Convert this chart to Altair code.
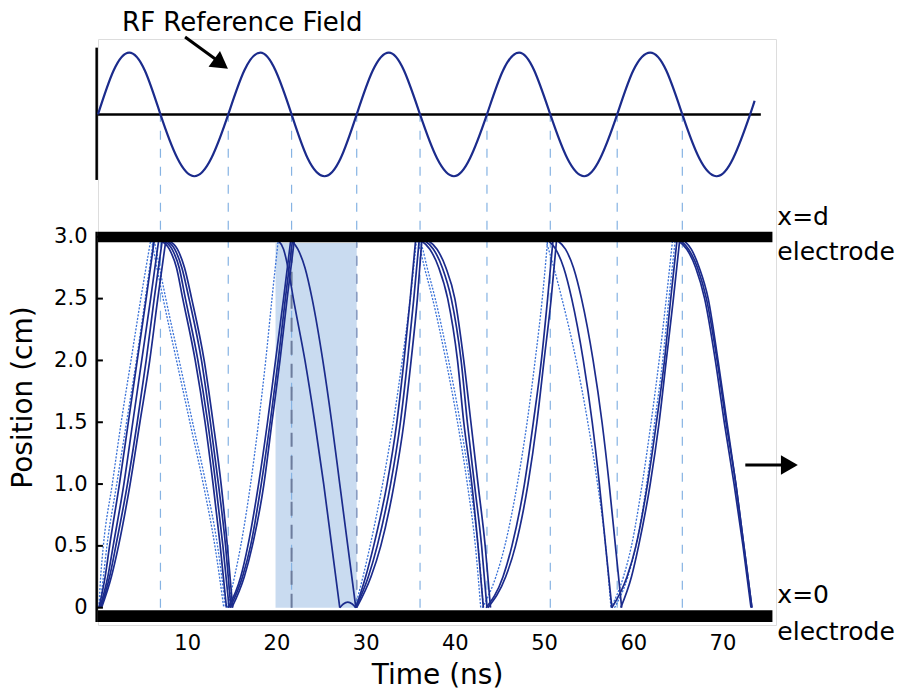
import altair as alt
import pandas as pd

# ---------------- data ----------------
X_TICKS = [10, 20, 30, 40, 50, 60, 70]
Y_TICKS = [0, 0.5, 1.0, 1.5, 2.0, 2.5, 3.0]

# RF reference field (normalised amplitude)
RF_T = [0, 1.75, 3.5, 5.25, 7.0, 8.9, 10.8, 12.7, 14.6, 16.4, 18.2, 19.9,
        21.7, 23.5, 25.4, 27.2, 29.0, 30.8, 32.6, 34.3, 36.1, 38.0, 39.9, 41.7,
        43.6, 45.4, 47.2, 48.9, 50.7, 52.6, 54.5, 56.3, 58.2, 60.0, 61.9, 63.7,
        65.5, 67.4, 69.3, 71.2, 73.1, 73.6]
RF_V = [0, .71, 1, .71, 0, -.71, -1, -.71, 0, .71, 1, .71,
        0, -.71, -1, -.71, 0, .71, 1, .71, 0, -.71, -1, -.71,
        0, .71, 1, .71, 0, -.71, -1, -.71, 0, .71, 1, .71,
        0, -.71, -1, -.71, 0, 0.22]

# zero crossings of the field (dashed guide lines)
CROSS_T = [7.0, 14.6, 21.7, 29.0, 36.1, 43.6, 50.7, 58.2, 65.5]
HIGHLIGHT_T = [21.7]
SHADE_T = [19.9, 29.0]

# electron trajectories: times (ns) at which each one passes given positions (cm)
RISE_Y = [0, 0.25, 0.5, 1.0, 1.5, 2.0, 2.5, 2.97]
FALL_Y = [2.97, 2.9, 2.75, 2.5, 2.0, 1.5, 1.0, 0.5, 0]

RISE_SOLID = {
    "R1c": [0.1, 0.8, 1.3, 2.4, 3.4, 4.4, 5.4, 6.3],
    "R1d": [0.2, 1.1, 1.7, 2.9, 3.9, 4.9, 5.9, 6.8],
    "R1e": [0.3, 1.3, 2.0, 3.3, 4.4, 5.4, 6.3, 7.2],
    "R1f": [0.4, 1.5, 2.3, 3.6, 4.7, 5.8, 6.7, 7.6],
    "R2b": [14.6, 16.0, 16.8, 18.0, 19.0, 19.9, 20.8, 21.6],
    "R2c": [14.8, 16.2, 17.1, 18.3, 19.3, 20.2, 21.0, 21.8],
    "R2d": [15.0, 16.4, 17.3, 18.6, 19.5, 20.4, 21.2, 22.0],
    "R3a": [28.9, 30.0, 30.9, 32.4, 33.5, 34.3, 35.0, 35.6],
    "R3b": [28.9, 30.3, 31.3, 32.8, 33.9, 34.7, 35.4, 36.0],
    "R3c": [29.0, 30.6, 31.7, 33.2, 34.3, 35.1, 35.8, 36.3],
    "R4b": [43.5, 45.4, 46.4, 47.8, 48.8, 49.7, 50.4, 51.0],
    "R4c": [43.7, 45.7, 46.8, 48.2, 49.2, 50.0, 50.8, 51.4],
    "R5b": [57.6, 59.3, 60.3, 61.6, 62.6, 63.5, 64.2, 64.9],
    "R5c": [58.6, 59.8, 60.6, 61.9, 62.9, 63.7, 64.5, 65.2],
}
RISE_DOTTED = {
    "R1a": [0.1, 0.3, 0.6, 1.6, 2.6, 3.7, 4.8, 5.9],
    "R1b": [0.2, 0.6, 1.0, 2.1, 3.2, 4.3, 5.3, 6.2],
    "R2a": [14.5, 15.3, 16.0, 17.1, 18.0, 18.8, 19.5, 20.2],
    "R3d": [28.8, 29.7, 30.5, 31.9, 33.1, 34.1, 35.0, 35.7],
    "R4a": [43.1, 44.6, 45.6, 47.0, 48.1, 49.0, 49.8, 50.4],
    "R5a": [57.5, 58.9, 59.8, 61.0, 62.0, 62.9, 63.7, 64.4],
    "R5d": [57.9, 59.4, 60.3, 61.5, 62.4, 63.3, 64.0, 64.7],
}
FALL_SOLID = {
    "D1a": [7.0, 8.0, 8.8, 9.5, 10.9, 12.0, 12.9, 13.7, 14.4],
    "D1b": [7.3, 8.3, 9.1, 9.8, 11.2, 12.3, 13.2, 14.0, 14.7],
    "D1c": [7.6, 8.6, 9.4, 10.2, 11.6, 12.6, 13.5, 14.3, 14.9],
    "D1d": [7.9, 8.9, 9.7, 10.5, 11.9, 12.9, 13.8, 14.5, 15.1],
    "D2a": [20.2, 20.8, 21.3, 21.9, 23.2, 24.3, 25.3, 26.2, 27.1],
    "D2b": [21.7, 22.4, 23.2, 24.0, 25.2, 26.2, 27.1, 28.0, 28.9],
    "D3a": [36.2, 37.2, 38.2, 39.2, 40.3, 41.0, 41.9, 42.6, 43.2],
    "D3b": [36.6, 37.6, 38.6, 39.6, 40.7, 41.4, 42.2, 43.0, 43.6],
    "D3c": [37.0, 38.0, 39.0, 40.0, 41.0, 41.8, 42.6, 43.4, 44.0],
    "D4a": [50.5, 51.3, 52.2, 53.1, 54.4, 55.4, 56.2, 56.9, 57.6],
    "D4b": [51.5, 52.4, 53.3, 54.2, 55.5, 56.5, 57.3, 58.0, 58.7],
    "D5a": [65.0, 66.0, 67.0, 68.0, 69.2, 70.2, 71.3, 72.3, 73.2],
    "D5b": [65.3, 66.2, 67.2, 68.2, 69.4, 70.4, 71.5, 72.4, 73.3],
    "D5c": [65.7, 66.5, 67.4, 68.4, 69.5, 70.5, 71.5, 72.4, 73.3],
}
FALL_DOTTED = {
    "D1e": [6.0, 6.2, 6.6, 7.3, 8.8, 10.3, 11.8, 13.1, 14.1],
    "D1f": [6.3, 6.5, 6.9, 7.6, 9.1, 10.6, 12.1, 13.4, 14.3],
    "D3d": [35.8, 36.1, 36.6, 37.5, 39.0, 40.3, 41.4, 42.3, 42.9],
    "D3e": [36.1, 36.4, 36.9, 37.8, 39.3, 40.6, 41.7, 42.6, 43.2],
    "D4c": [50.2, 50.5, 51.1, 52.0, 53.6, 54.9, 56.0, 56.9, 57.5],
}
BUMP_T = [27.1, 27.5, 28.0, 28.5, 28.9]
BUMP_Y = [0, 0.03, 0.045, 0.03, 0]

# ---------------- geometry / styling ----------------
X_DOMAIN = [0, 76]
Y_DOMAIN = [-0.14, 4.6]
RF_CENTER, RF_AMP = 3.99, 0.5
FONT = "DejaVu Sans"
NAVY = "#1b2b8c"
LIGHT = "#3a72d8"

xs = alt.Scale(domain=X_DOMAIN, nice=False, zero=False)
ys = alt.Scale(domain=Y_DOMAIN, nice=False, zero=False)
XAX = alt.Axis(values=X_TICKS, domain=False, ticks=False, grid=False,
               labelFontSize=21, labelFont=FONT, labelColor="black",
               labelPadding=7, title="Time (ns)", titleFont=FONT,
               titleFontSize=28, titleFontWeight="normal", titleColor="black",
               titlePadding=8)
YAX = alt.Axis(values=Y_TICKS, domain=False, ticks=False, grid=False,
               labelFontSize=21, labelFont=FONT, labelColor="black",
               labelPadding=11, title=None,
               labelExpr="datum.value == 0 ? '0' : format(datum.value, '.1f')")


def X(f):
    return alt.X(f, type="quantitative", scale=xs, axis=XAX)


def Y(f):
    return alt.Y(f, type="quantitative", scale=ys, axis=YAX)


def curves(table, levels):
    rows = []
    for name, ts in table.items():
        for i, (t, y) in enumerate(zip(ts, levels)):
            rows.append({"curve": name, "i": i, "t": t, "y": y})
    return pd.DataFrame(rows)


solid_df = pd.concat([curves(RISE_SOLID, RISE_Y), curves(FALL_SOLID, FALL_Y),
                      pd.DataFrame({"curve": "bump", "i": range(len(BUMP_T)),
                                    "t": BUMP_T, "y": BUMP_Y})])
dotted_df = pd.concat([curves(RISE_DOTTED, RISE_Y), curves(FALL_DOTTED, FALL_Y)])
rf_df = pd.DataFrame({"t": RF_T, "v": RF_V})

shade = alt.Chart(pd.DataFrame({"t1": [SHADE_T[0]], "t2": [SHADE_T[1]],
                                "y1": [0.0], "y2": [2.95]})).mark_rect(
    color="#c3d7ee", opacity=0.9).encode(x=X("t1"), x2="t2", y=Y("y1"), y2="y2")

guides = alt.Chart(pd.DataFrame({"t": CROSS_T, "y1": 0.0, "y2": RF_CENTER})).mark_rule(
    color="#86b3e3", strokeWidth=1.2, strokeDash=[9, 9]).encode(
    x=X("t"), y=Y("y1"), y2="y2")

hl = alt.Chart(pd.DataFrame({"t": HIGHLIGHT_T, "y1": 0.0, "y2": 2.95})).mark_rule(
    color="#6d7c9c", strokeWidth=2, strokeDash=[14, 9]).encode(
    x=X("t"), y=Y("y1"), y2="y2")

shade_edge = alt.Chart(pd.DataFrame({"t": [SHADE_T[1]], "y1": 0.0, "y2": 2.95})).mark_rule(
    color="#8a9bc0", strokeWidth=1.5, strokeDash=[10, 8]).encode(
    x=X("t"), y=Y("y1"), y2="y2")

dotted = alt.Chart(dotted_df).mark_line(
    interpolate="monotone", color=LIGHT, strokeWidth=1.3, strokeDash=[2, 1.5]).encode(
    x=X("t"), y=Y("y"), detail="curve:N", order="i:Q")

solid = alt.Chart(solid_df).mark_line(
    interpolate="monotone", color=NAVY, strokeWidth=1.7).encode(
    x=X("t"), y=Y("y"), detail="curve:N", order="i:Q")

bars = alt.Chart(pd.DataFrame({"t1": [0.0, 0.0], "t2": [75.6, 75.6],
                               "y1": [2.955, -0.02], "y2": [3.04, -0.115]})).mark_rect(
    color="black").encode(x=X("t1"), x2="t2", y=Y("y1"), y2="y2")

frame = alt.Chart(pd.DataFrame({"t1": [-0.15, -0.15, 0.0], "t2": [-0.15, -0.15, 74.3],
                                "y1": [-0.115, 3.46, RF_CENTER],
                                "y2": [3.04, 4.53, RF_CENTER]})).mark_rule(
    color="black", strokeWidth=2.5).encode(x=X("t1"), x2="t2", y=Y("y1"), y2="y2")

yticks = alt.Chart(pd.DataFrame({"y": Y_TICKS, "t1": -0.15, "t2": 0.55})).mark_rule(
    color="black", strokeWidth=2).encode(x=X("t1"), x2="t2", y=Y("y"))

rf = alt.Chart(rf_df).transform_calculate(
    yy=f"{RF_CENTER} + {RF_AMP} * datum.v").mark_line(
    interpolate="natural", color=NAVY, strokeWidth=2.2).encode(x=X("t"), y=Y("yy"))

arrows = alt.Chart(pd.DataFrame({"t1": [9.76, 72.56], "t2": [13.3, 77.2],
                                 "y1": [4.616, 1.154], "y2": [4.43, 1.154]})).mark_rule(
    color="black", strokeWidth=3).encode(x=X("t1"), x2="t2", y=Y("y1"), y2="y2")

heads = alt.Chart(pd.DataFrame({"t": [13.8, 77.5], "y": [4.40, 1.154],
                                "a": [36, 0]})).mark_point(
    shape="triangle-right", filled=True, color="black", opacity=1, size=380).encode(
    x=X("t"), y=Y("y"), angle=alt.Angle("a:Q", scale=None))

ann = alt.Chart(pd.DataFrame({
    "t": [2.7, 76.15, 76.15, 76.15, 76.15],
    "y": [4.665, 3.095, 2.81, 0.038, -0.26],
    "s": [26, 25, 25, 25, 25],
    "label": ["RF Reference Field", "x=d", "electrode", "x=0", "electrode"]})).mark_text(
    align="left", baseline="alphabetic", font=FONT, color="black").encode(
    x=X("t"), y=Y("y"), text="label:N", size=alt.Size("s:Q", scale=None))

ytitle = alt.Chart(pd.DataFrame({"t": [-8.35], "y": [1.70], "label": ["Position (cm)"]})).mark_text(
    angle=270, align="center", baseline="middle", font=FONT, fontSize=28, color="black").encode(
    x=X("t"), y=Y("y"), text="label:N")

chart = alt.layer(shade, guides, shade_edge, hl, dotted, solid, bars, frame, yticks,
                  rf, arrows, heads, ann, ytitle).properties(
    width=678, height=586,
    autosize=alt.AutoSizeParams(type="none"),
    padding={"left": 98, "top": 39, "right": 130, "bottom": 71},
).configure_view(stroke=None).configure(background="white")

chart.save("out.html", embed_options={"renderer": "svg", "actions": False})
